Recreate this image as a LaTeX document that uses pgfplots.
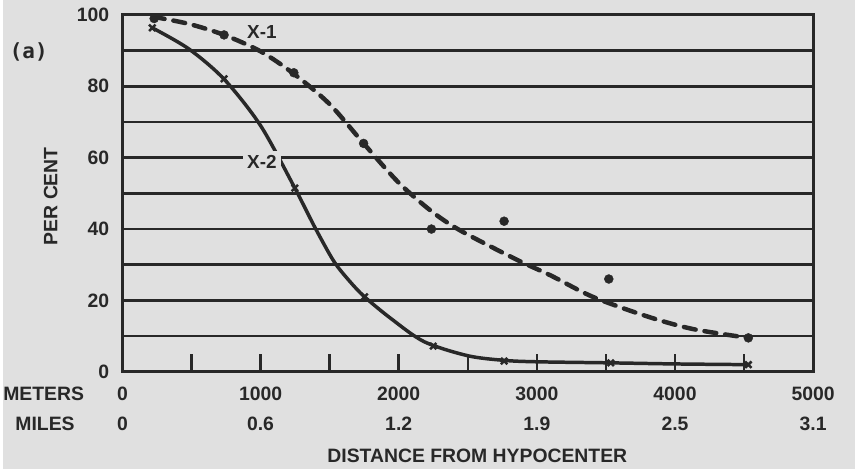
\documentclass[border=0pt]{standalone}
\usepackage{fontspec}
\setmainfont{Liberation Sans}
\newfontfamily\monofont{DejaVu Sans Mono}
\usepackage{pgfplots}
\pgfplotsset{compat=1.18}
\definecolor{bg}{HTML}{E0E0E0}
\definecolor{ink}{HTML}{282828}
\pgfdeclarelayer{halolayer}
\pgfplotsset{
 layers/halo set/.define layer set={axis background,axis grid,halolayer,axis ticks,axis lines,axis tick labels,main,axis descriptions,axis foreground}{},
}
\begin{document}
\begin{tikzpicture}
\fill[bg] (-120bp,-98bp) rectangle (735bp,373bp);
\begin{axis}[
 set layers=halo set,
 at={(0,0)}, anchor=south west,
 scale only axis, width=693bp, height=358bp,
 xmin=0, xmax=5000, ymin=0, ymax=100,
 clip=false,
 axis line style={ink, line width=3bp},
 xtick={0,1000,...,5000},
 minor xtick={500,1500,...,4500},
 xticklabels={{0\\0},{1000\\0.6},{2000\\1.2},{3000\\1.9},{4000\\2.5},{5000\\3.1}},
 xticklabel style={font=\fontsize{19.5}{30}\selectfont\bfseries, align=center, inner sep=0pt, yshift=-15bp, text=ink},
 tick align=inside, xtick pos=bottom,
 major tick length=18bp, minor tick length=18bp,
 x tick style={ink, line width=2.5bp},
 ytick={0,20,...,100},
 yticklabels={0,20,40,60,80,100},
 minor ytick={10,30,...,90},
 y tick style={draw=none},
 ymajorgrids, yminorgrids,
 major grid style={ink, line width=2.5bp},
 minor grid style={ink, line width=2.5bp},
 yticklabel style={font=\fontsize{19.5}{22}\selectfont\bfseries, inner sep=0pt, xshift=-13bp, text=ink},
]
% halos (gaps in the grid lines around the curves)
\addplot[on layer=halolayer, bg, line width=16bp, smooth] coordinates {
 (736,94.4) (1000,89.8) (1241,83.5) (1500,75) (1746,64) (2000,53) (2237,45)
 (2450,39.5) (2850,31.5) (3100,27) (3405,21) (3800,15.5) (4127,12) (4531,9.5)};
\addplot[on layer=halolayer, bg, line width=16bp, smooth] coordinates {
 (300,94.6) (480,90.5) (736,82) (1000,69) (1248,51.5) (1393,40.5) (1530,31)
 (1640,25.6) (1753,21) (1948,14.8) (2186,8.4)};
% X-1 curve
\addplot[ink, line width=4.5bp, smooth, dash pattern=on 12bp off 9bp, line cap=round] coordinates {
 (220,99.5) (480,97.5) (736,94.4) (1000,89.8) (1241,83.5) (1500,75) (1746,64) (2000,53) (2237,45)
 (2450,39.5) (2850,31.5) (3100,27) (3405,21) (3800,15.5) (4127,12) (4531,9.5)};
% X-2 curve
\addplot[ink, line width=3.5bp, smooth] coordinates {
 (216,96.4) (480,90.5) (736,82) (1000,69) (1248,51.5) (1393,40.5) (1530,31)
 (1640,25.6) (1753,21) (1948,14.8) (2186,8.4) (2500,4.5) (2763,3.2) (3000,2.8) (3535,2.5) (4000,2.2) (4531,2)};
% X-1 observed points
\addplot[only marks, mark=*, mark size=4.5bp, ink] coordinates {
 (230,99) (736,94.4) (1241,83.8) (1746,64) (2237,40) (2763,42.2) (3521,26) (4531,9.5)};
% X-2 observed points
\addplot[only marks, mark=x, mark size=4.5bp, ink, line width=2.5bp] coordinates {
 (216,96.4) (736,82.1) (1248,51.5) (1753,21) (2250,7.2) (2763,3) (3535,2.5) (4531,2)};
\node[font=\fontsize{21}{21}\selectfont\monofont\bfseries, text=ink] at (axis cs:-678,89.7) {(a)};
\node[font=\fontsize{19.5}{19}\selectfont\bfseries, text=ink] at (axis cs:-570,-6.1) {METERS};
\node[font=\fontsize{19.5}{19}\selectfont\bfseries, text=ink] at (axis cs:-560,-14.5) {MILES};
\node[font=\fontsize{19.5}{19}\selectfont\bfseries, text=ink] at (axis cs:2569,-23.5) {DISTANCE FROM HYPOCENTER};
\node[font=\fontsize{19.5}{19}\selectfont\bfseries, text=ink, rotate=90] at (axis cs:-519,49.2) {PER CENT};
\node[fill=bg, font=\fontsize{19}{19}\selectfont\bfseries, text=ink, inner sep=3bp] at (axis cs:1010,95.3) {X-1};
\node[fill=bg, font=\fontsize{19}{19}\selectfont\bfseries, text=ink, inner sep=4bp] at (axis cs:1010,58.9) {X-2};
\end{axis}
\end{tikzpicture}
\end{document}
